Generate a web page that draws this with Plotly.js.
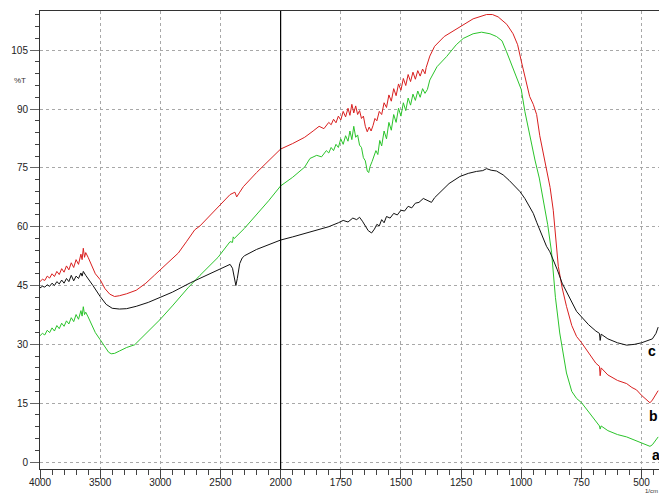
<!DOCTYPE html>
<html>
<head>
<meta charset="utf-8">
<script src="https://cdn.plot.ly/plotly-3.0.1.min.js"></script>
<style>html,body{margin:0;padding:0;background:#fff;}#chart{width:659px;height:495px;}</style>
</head>
<body>
<div id="chart"></div>
<script>
// Tick labels (wavenumber, 1/cm) – axis has a scale change at 2000
const tickWavenumbers = [4000, 3500, 3000, 2500, 2000, 1750, 1500, 1250, 1000, 750, 500];
const tickLabels = ['4000', '3500', '3000', '2500', '2000', '1750', '1500', '1250', '1000', '750', '500'];

// Curve b (red)
const wnB = [4000,3980,3960,3940,3920,3900,3880,3860,3840,3820,3800,3780,3760,3740,3720,3700,3680,3660,3650,3640,3630,3620,3600,3570,3540,3500,3460,3420,3380,3340,3280,3200,3120,3050,3000,2920,2850,2780,2714,2670,2600,2500,2420,2380,2365,2340,2310,2200,2100,2000,1950,1900,1865,1840,1820,1800,1790,1780,1770,1760,1750,1740,1730,1720,1712,1704,1696,1688,1680,1672,1664,1656,1648,1640,1632,1624,1616,1608,1600,1590,1580,1570,1560,1550,1540,1530,1520,1510,1500,1490,1480,1470,1460,1450,1440,1430,1420,1410,1400,1395,1380,1360,1320,1255,1200,1144,1120,1096,1060,1034,1015,999,980,965,950,936,923,910,895,880,867,853,846,830,812,790,770,749,720,690,675,672,668,640,600,562,540,521,500,480,465,455,445,431];
const tB = [46.0,46.6,46.3,47.4,46.9,48.0,47.3,48.6,47.8,49.3,48.4,50.0,49.0,50.8,49.6,51.6,50.4,53.0,51.6,54.5,52.2,53.4,52.2,50.0,48.0,46.5,44.2,42.8,42.2,42.4,42.9,43.8,45.6,47.6,49.0,51.2,53.3,56.3,59.2,60.2,62.5,65.6,68.2,68.8,67.6,68.8,70.2,73.8,76.8,79.8,81.2,82.8,84.4,85.6,85.0,86.6,86.0,87.4,86.5,88.2,87.2,89.4,88.0,90.2,88.4,91.2,89.0,90.8,88.6,89.6,87.6,88.2,85.6,84.2,85.4,84.4,85.8,87.6,87.0,89.4,88.6,91.6,90.4,93.6,92.0,95.2,93.4,96.4,94.8,97.8,96.0,98.8,97.0,99.4,97.6,99.8,98.4,100.2,99.0,100.6,103.5,106.0,108.5,111.0,113.0,114.1,114.1,113.5,111.6,109.2,106.4,102.0,96.8,93.2,91.2,88.6,83.2,79.4,75.3,70.0,64.2,55.0,49.9,44.4,39.7,34.8,32.0,30.4,28.0,25.2,24.4,22.0,24.0,22.2,20.8,20.0,19.0,18.4,17.0,16.0,15.1,15.8,16.8,18.2];

// Curve a (green)
const wnA = [4000,3980,3960,3940,3920,3900,3880,3860,3840,3820,3800,3780,3760,3740,3720,3700,3680,3660,3650,3640,3630,3620,3600,3570,3540,3500,3460,3430,3408,3380,3340,3280,3213,3150,3080,3003,2900,2770,2670,2520,2420,2400,2394,2385,2300,2200,2100,2000,1950,1900,1878,1850,1830,1810,1800,1790,1780,1770,1760,1750,1740,1730,1720,1712,1704,1696,1688,1680,1672,1664,1656,1648,1640,1634,1628,1620,1612,1604,1596,1588,1580,1570,1560,1550,1540,1530,1520,1510,1500,1490,1480,1470,1460,1450,1440,1430,1420,1410,1400,1390,1380,1350,1310,1270,1241,1200,1165,1130,1103,1080,1061,1040,1019,1000,985,971,955,943,925,909,890,874,858,840,825,812,790,770,749,720,690,675,672,668,640,600,562,530,500,480,465,455,445,431];
const tA = [32.2,32.8,32.4,33.6,33.0,34.2,33.4,34.8,34.0,35.4,34.6,36.0,35.2,36.8,35.8,37.6,36.4,38.6,37.2,39.6,37.6,38.2,37.0,35.0,33.0,31.2,29.2,28.0,27.6,27.7,28.3,29.2,29.9,31.8,33.8,36.3,39.8,44.4,47.6,52.2,56.2,56.0,57.4,57.0,59.6,63.0,66.6,70.4,72.6,75.2,77.4,78.2,77.8,79.4,78.8,80.2,79.4,81.0,80.2,82.4,81.0,83.2,81.8,84.4,82.2,85.6,82.8,83.4,80.8,80.2,77.6,76.8,74.2,73.8,75.4,76.6,77.8,79.4,78.4,82.0,80.6,84.4,82.4,86.6,84.6,88.6,86.6,90.2,88.2,91.6,89.6,92.8,91.0,93.8,92.2,94.6,93.0,95.2,94.0,95.0,97.4,100.8,103.4,106.4,108.0,109.2,109.6,109.2,108.5,107.4,104.6,101.4,98.2,95.0,89.4,85.0,80.0,77.0,72.4,67.4,60.5,53.5,42.0,32.9,26.8,22.7,18.0,16.2,15.1,12.8,10.5,9.2,8.4,9.2,8.0,7.0,6.4,5.6,5.0,4.4,4.0,4.4,5.2,6.4];

// Curve c (black)
const wnC = [4000,3980,3960,3940,3920,3900,3880,3860,3840,3820,3800,3780,3760,3740,3720,3700,3680,3660,3650,3640,3620,3590,3560,3500,3450,3400,3340,3280,3200,3100,3000,2900,2750,2670,2520,2420,2400,2385,2372,2360,2340,2320,2300,2200,2100,2000,1950,1900,1850,1800,1760,1740,1720,1700,1684,1672,1660,1648,1636,1622,1610,1600,1590,1580,1570,1560,1545,1530,1515,1500,1485,1470,1455,1440,1425,1407,1390,1373,1360,1340,1300,1255,1220,1186,1160,1144,1125,1103,1075,1050,1030,1006,985,965,950,935,920,909,895,881,867,850,830,812,790,770,749,720,690,675,672,668,640,600,562,530,500,479,455,440,431];
const tC = [44.4,44.8,44.6,45.2,44.8,45.6,45.0,46.0,45.4,46.4,45.6,46.8,46.0,47.6,46.2,47.4,46.8,48.2,47.4,48.6,47.6,46.4,45.0,42.2,40.2,39.2,39.0,39.1,39.7,40.7,41.9,43.3,45.7,46.8,48.9,50.4,49.4,46.6,45.0,46.8,50.6,52.0,52.6,54.2,55.4,56.6,57.4,58.3,59.2,60.0,61.0,61.6,61.2,62.2,61.8,62.4,61.4,60.2,59.0,58.4,59.4,60.6,60.2,61.8,61.0,62.6,62.2,63.4,63.0,64.2,64.0,65.2,64.8,66.0,66.2,67.2,66.8,66.2,67.4,68.6,71.0,72.8,73.6,74.1,74.3,74.8,74.4,74.2,73.2,71.8,70.4,69.0,67.2,65.0,63.4,61.0,58.6,57.0,55.0,53.6,51.6,49.0,45.6,43.6,40.8,38.4,37.0,35.0,33.4,32.8,31.0,32.6,31.4,30.4,29.8,30.0,30.4,30.8,31.4,32.8,34.4];

const curveNames = ['a', 'b', 'c'];

// Instrument-style piecewise x scale: 500 cm-1 per division above 2000, 250 below
function pos(w) { return w >= 2000 ? (4000 - w) / 500 : 4 + (2000 - w) / 250; }

const traces = [
  {x: wnA.map(pos), y: tA, mode: 'lines', line: {color: '#2bc42b', width: 1}, name: curveNames[0], customdata: wnA},
  {x: wnB.map(pos), y: tB, mode: 'lines', line: {color: '#d91f1f', width: 1}, name: curveNames[1], customdata: wnB},
  {x: wnC.map(pos), y: tC, mode: 'lines', line: {color: '#111111', width: 1}, name: curveNames[2], customdata: wnC}
];

const tickFont = {family: 'Liberation Sans, Arial, sans-serif', size: 10, color: '#222'};
const smallFont = {family: 'Liberation Sans, Arial, sans-serif', size: 8, color: '#333'};
const unitFont = {family: 'Liberation Sans, Arial, sans-serif', size: 6, color: '#333'};
const labelFont = {family: 'Liberation Sans, Arial, sans-serif', size: 14, color: '#000', weight: 'bold'};

const layout = {
  width: 659, height: 495,
  margin: {l: 40, r: 0, t: 11, b: 26, pad: 0},
  paper_bgcolor: '#fff', plot_bgcolor: '#fff',
  showlegend: false,
  xaxis: {
    range: [0, 10.29],
    tickmode: 'array',
    tickvals: tickWavenumbers.map(pos),
    ticktext: tickLabels,
    ticks: 'outside', ticklen: 9, tickcolor: '#444', tickwidth: 1,
    ticklabelstandoff: -5,
    minor: {ticks: 'outside', ticklen: 5, tickcolor: '#444', dtick: 0.2, tick0: 0, showgrid: false},
    showgrid: true, gridcolor: '#a8a8a8', gridwidth: 1, griddash: '3px,3px',
    showline: true, linecolor: '#333', linewidth: 1, mirror: true,
    zeroline: false, tickfont: tickFont
  },
  yaxis: {
    range: [-1.78, 115],
    tickmode: 'linear', tick0: 0, dtick: 15,
    ticks: 'outside', ticklen: 9, tickcolor: '#666', tickwidth: 1,
    minor: {ticks: 'outside', ticklen: 4, tickcolor: '#444', dtick: 3, tick0: 0, showgrid: false},
    showgrid: true, gridcolor: '#a8a8a8', gridwidth: 1, griddash: '3px,3px',
    showline: true, linecolor: '#333', linewidth: 1,
    zeroline: false, tickfont: tickFont
  },
  shapes: [
    {type: 'line', xref: 'x', yref: 'paper', x0: pos(2000), x1: pos(2000), y0: 0, y1: 1, line: {color: '#000', width: 1.2}}
  ],
  annotations: [
    {text: '%T', xref: 'paper', yref: 'paper', x: -0.032, y: 0.849, xanchor: 'center', yanchor: 'middle', showarrow: false, font: smallFont},
    {text: '1/cm', xref: 'paper', yref: 'paper', x: 1.0, y: -0.0565, xanchor: 'right', yanchor: 'bottom', borderpad: 0, showarrow: false, font: unitFont},
    {text: curveNames[2], xref: 'x', yref: 'y', x: 10.17, y: 28.2, xanchor: 'center', yanchor: 'middle', showarrow: false, font: labelFont},
    {text: curveNames[1], xref: 'x', yref: 'y', x: 10.2, y: 11.7, xanchor: 'center', yanchor: 'middle', showarrow: false, font: labelFont},
    {text: curveNames[0], xref: 'x', yref: 'y', x: 10.24, y: 1.9, xanchor: 'center', yanchor: 'middle', showarrow: false, font: labelFont}
  ]
};

Plotly.newPlot('chart', traces, layout, {displayModeBar: false, staticPlot: true});
</script>
</body>
</html>
